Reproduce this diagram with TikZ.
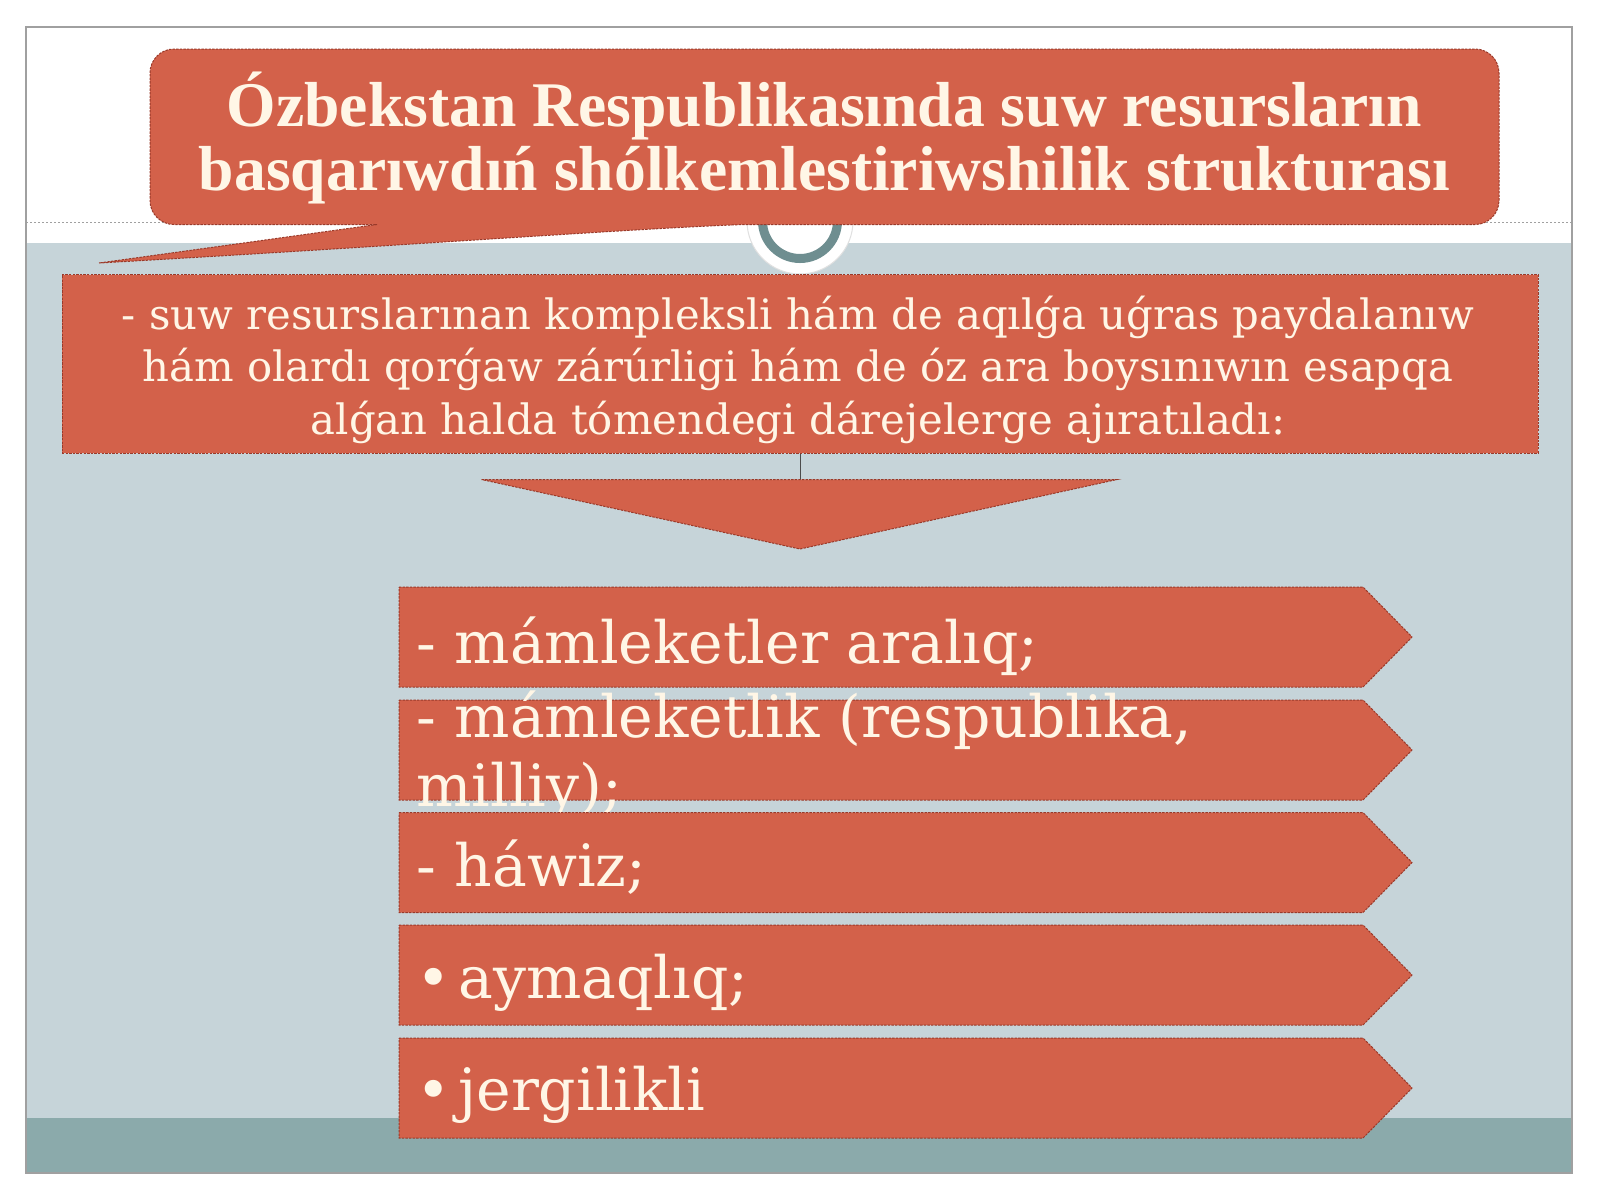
\documentclass[tikz,border=0pt]{standalone}
\usepackage{fontspec}
\setmainfont{DejaVu Serif}
\newfontfamily\titlefont{Liberation Serif}
\definecolor{bgblue}{HTML}{C6D4D9}
\definecolor{bandteal}{HTML}{8BAAAB}
\definecolor{framegray}{HTML}{A0A0A0}
\definecolor{boxfill}{HTML}{D3614A}
\definecolor{boxline}{HTML}{9A3A2A}
\definecolor{ringteal}{HTML}{6E8E90}
\definecolor{cream}{HTML}{FFF6E6}
\tikzset{
  shapebox/.style={fill=boxfill, draw=boxline, line width=0.5pt, dash pattern=on 1.2pt off 0.6pt},
  titletext/.style={text=cream, font=\titlefont\bfseries\fontsize{31.8}{34}\selectfont, inner sep=0pt, anchor=base},
  bodytext/.style={text=cream, font=\fontsize{20.9}{24}\selectfont, inner sep=0pt, anchor=base},
  itemtext/.style={text=cream, font=\fontsize{29.2}{32}\selectfont, inner sep=0pt, anchor=base west},
}
\begin{document}
\begin{tikzpicture}[x=0.5pt,y=-0.5pt]
\useasboundingbox (0,0) rectangle (1600,1200);
\fill[white] (0,0) rectangle (1600,1200);
% slide background
\fill[bgblue] (26,243) rectangle (1572,1117.5);
\fill[bandteal] (26,1117.5) rectangle (1572,1173);
\draw[framegray, line width=0.75pt] (26,27) rectangle (1572,1173);
\draw[framegray, line width=0.4pt, dash pattern=on 1.2pt off 0.8pt] (26,222.5) -- (1572,222.5);
% ring
\fill[white, draw=black!12, line width=0.5pt] (800,221) circle[radius=26.5pt];
\draw[ringteal, line width=4.5pt, fill=white] (800,221) circle[radius=18.75pt];
% title callout
\path[shapebox] (150,140) [rounded corners=12pt] -- (150,49) -- (1499,49) -- (1499,224.5) -- (1000,224.5) [sharp corners] -- (745,224.5)
  .. controls (640,228) and (400,246) .. (99,263) -- (377,224.5) -- (300,224.5) [rounded corners=12pt] -- (150,224.5) -- cycle;
\node[titletext] (title1) at (824.5,126.5) {Ózbekstan Respublikasında suw resursların};
\node[titletext] (title2) at (824.5,190) {basqarıwdıń shólkemlestiriwshilik strukturası};
% text box
\node[shapebox, minimum width=738pt, minimum height=89.25pt, inner sep=0pt] (box) at (800,363.75) {};
\node[bodytext] (body1) at (798,329) {- suw resurslarınan kompleksli hám de aqılǵa uǵras paydalanıw};
\node[bodytext] (body2) at (798,381) {hám olardı qorǵaw zárúrligi hám de óz ara boysınıwın esapqa};
\node[bodytext] (body3) at (798,434) {alǵan halda tómendegi dárejelerge ajıratıladı:};
% down arrow
\coordinate (tritop) at (800,479.5);
\draw[black!70, line width=0.5pt] (box.south) -- (tritop);
\path[shapebox] (481.5,479.5) -- (1117,479.5) -- (800,549) -- cycle;
% chevrons
\path[shapebox] (399,587) -- (1363,587) -- (1412,637) -- (1363,687) -- (399,687) -- cycle;
\node[itemtext] (item1) at (416,663) {- mámleketler aralıq;};
\path[shapebox] (399,700) -- (1363,700) -- (1412,750) -- (1363,800) -- (399,800) -- cycle;
\node[itemtext] (item2a) at (416,737) {- mámleketlik (respublika,};
\node[itemtext] (item2b) at (416,806) {milliy);};
\path[shapebox] (399,812.5) -- (1363,812.5) -- (1412,862.5) -- (1363,912.5) -- (399,912.5) -- cycle;
\node[itemtext] (item3) at (416,886) {- háwiz;};
\path[shapebox] (399,925) -- (1363,925) -- (1412,975) -- (1363,1025) -- (399,1025) -- cycle;
\node[itemtext] (item4) at (416,998) {• \kern-5.5pt aymaqlıq;};
\path[shapebox] (399,1038) -- (1363,1038) -- (1412,1088) -- (1363,1138) -- (399,1138) -- cycle;
\node[itemtext] (item5) at (416,1110) {• \kern-5.5pt jergilikli};
\end{tikzpicture}
\end{document}
